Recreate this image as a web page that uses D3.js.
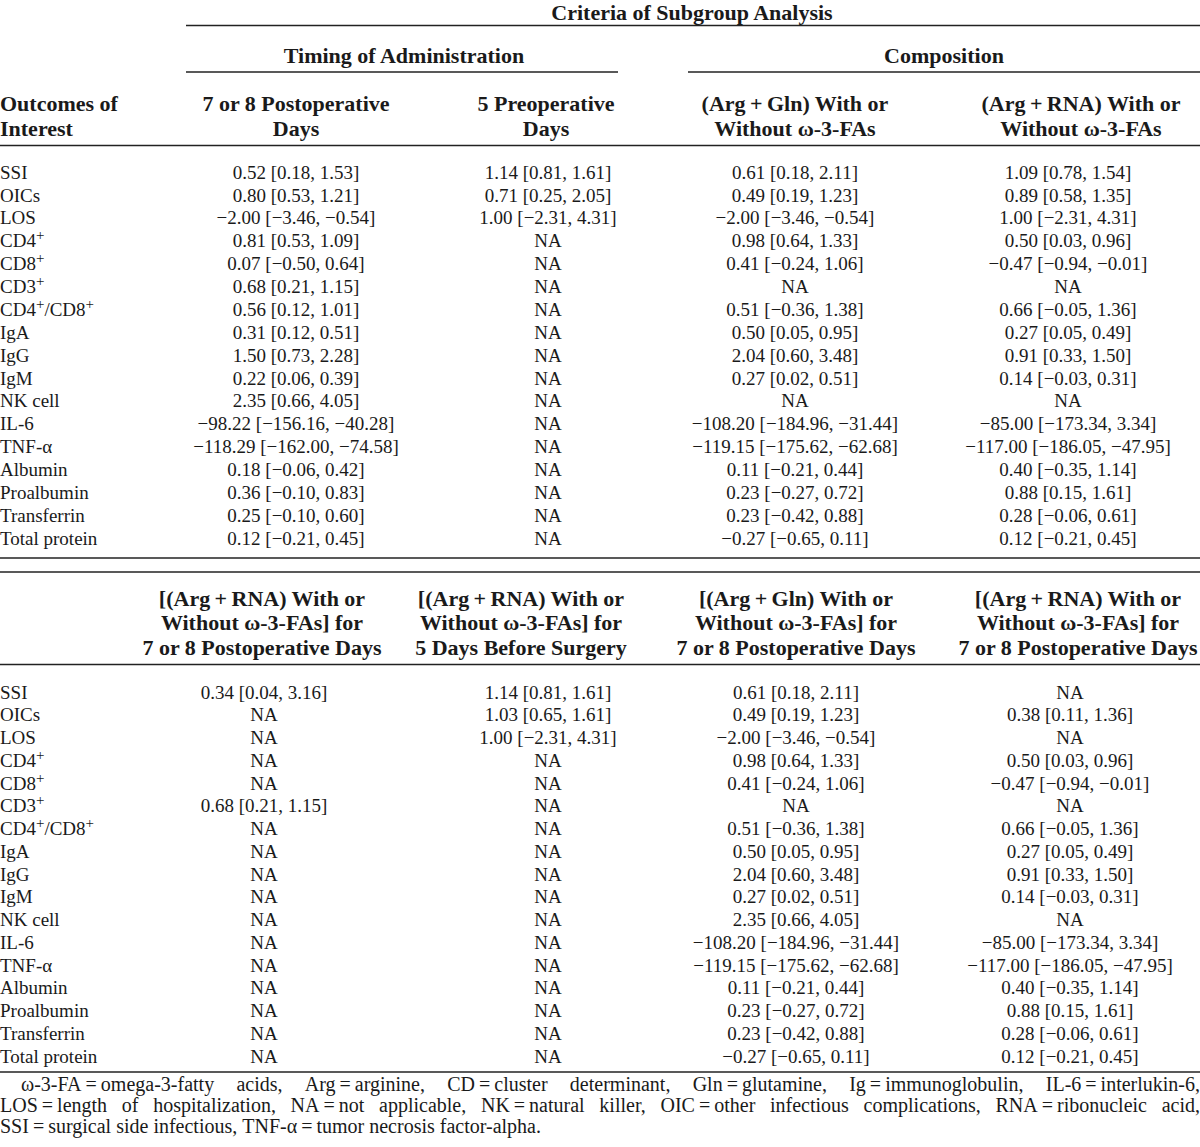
<!DOCTYPE html>
<html>
<head>
<meta charset="utf-8">
<script src="https://cdn.jsdelivr.net/npm/d3@7"></script>
<style>
  html, body { margin: 0; padding: 0; background: #fff; }
  svg { display: block; }
  text { font-family: "Liberation Serif", "Times New Roman", serif; fill: #1a1a1a; }
</style>
</head>
<body>
<svg id="chart" width="1200" height="1147"></svg>
<script>
// ---------------- DATA ----------------
const outcomes = ["SSI", "OICs", "LOS", "CD4+", "CD8+", "CD3+", "CD4+/CD8+", "IgA", "IgG", "IgM",
  "NK cell", "IL-6", "TNF-α", "Albumin", "Proalbumin", "Transferrin", "Total protein"];

const spannerTitle = "Criteria of Subgroup Analysis";
const spannerGroups = ["Timing of Administration", "Composition"];
const stubHeader = ["Outcomes of", "Interest"];

const topHeaders = [
  ["7 or 8 Postoperative", "Days"],
  ["5 Preoperative", "Days"],
  ["(Arg\u2009+\u2009Gln) With or", "Without ω-3-FAs"],
  ["(Arg\u2009+\u2009RNA) With or", "Without ω-3-FAs"]
];
const bottomHeaders = [
  ["[(Arg\u2009+\u2009RNA) With or", "Without ω-3-FAs] for", "7 or 8 Postoperative Days"],
  ["[(Arg\u2009+\u2009RNA) With or", "Without ω-3-FAs] for", "5 Days Before Surgery"],
  ["[(Arg\u2009+\u2009Gln) With or", "Without ω-3-FAs] for", "7 or 8 Postoperative Days"],
  ["[(Arg\u2009+\u2009RNA) With or", "Without ω-3-FAs] for", "7 or 8 Postoperative Days"]
];

// estimate, lower, upper ; null = NA
const timingPostop = [[0.52,0.18,1.53],[0.80,0.53,1.21],[-2.00,-3.46,-0.54],[0.81,0.53,1.09],[0.07,-0.50,0.64],
  [0.68,0.21,1.15],[0.56,0.12,1.01],[0.31,0.12,0.51],[1.50,0.73,2.28],[0.22,0.06,0.39],[2.35,0.66,4.05],
  [-98.22,-156.16,-40.28],[-118.29,-162.00,-74.58],[0.18,-0.06,0.42],[0.36,-0.10,0.83],[0.25,-0.10,0.60],[0.12,-0.21,0.45]];
const timingPreop = [[1.14,0.81,1.61],[0.71,0.25,2.05],[1.00,-2.31,4.31],null,null,null,null,null,null,null,
  null,null,null,null,null,null,null];
const compArgGln = [[0.61,0.18,2.11],[0.49,0.19,1.23],[-2.00,-3.46,-0.54],[0.98,0.64,1.33],[0.41,-0.24,1.06],
  null,[0.51,-0.36,1.38],[0.50,0.05,0.95],[2.04,0.60,3.48],[0.27,0.02,0.51],null,
  [-108.20,-184.96,-31.44],[-119.15,-175.62,-62.68],[0.11,-0.21,0.44],[0.23,-0.27,0.72],[0.23,-0.42,0.88],[-0.27,-0.65,0.11]];
const compArgRna = [[1.09,0.78,1.54],[0.89,0.58,1.35],[1.00,-2.31,4.31],[0.50,0.03,0.96],[-0.47,-0.94,-0.01],
  null,[0.66,-0.05,1.36],[0.27,0.05,0.49],[0.91,0.33,1.50],[0.14,-0.03,0.31],null,
  [-85.00,-173.34,3.34],[-117.00,-186.05,-47.95],[0.40,-0.35,1.14],[0.88,0.15,1.61],[0.28,-0.06,0.61],[0.12,-0.21,0.45]];

const argRnaPostop = [[0.34,0.04,3.16],null,null,null,null,[0.68,0.21,1.15],null,null,null,null,
  null,null,null,null,null,null,null];
const argRnaPreop = [[1.14,0.81,1.61],[1.03,0.65,1.61],[1.00,-2.31,4.31],null,null,null,null,null,null,null,
  null,null,null,null,null,null,null];
const argGlnPostop = [[0.61,0.18,2.11],[0.49,0.19,1.23],[-2.00,-3.46,-0.54],[0.98,0.64,1.33],[0.41,-0.24,1.06],
  null,[0.51,-0.36,1.38],[0.50,0.05,0.95],[2.04,0.60,3.48],[0.27,0.02,0.51],[2.35,0.66,4.05],
  [-108.20,-184.96,-31.44],[-119.15,-175.62,-62.68],[0.11,-0.21,0.44],[0.23,-0.27,0.72],[0.23,-0.42,0.88],[-0.27,-0.65,0.11]];
const argRnaPostop2 = [null,[0.38,0.11,1.36],null,[0.50,0.03,0.96],[-0.47,-0.94,-0.01],
  null,[0.66,-0.05,1.36],[0.27,0.05,0.49],[0.91,0.33,1.50],[0.14,-0.03,0.31],null,
  [-85.00,-173.34,3.34],[-117.00,-186.05,-47.95],[0.40,-0.35,1.14],[0.88,0.15,1.61],[0.28,-0.06,0.61],[0.12,-0.21,0.45]];

const footnoteLines = [
  "ω-3-FA\u2009=\u2009omega-3-fatty acids, Arg\u2009=\u2009arginine, CD\u2009=\u2009cluster determinant, Gln\u2009=\u2009glutamine, Ig\u2009=\u2009immunoglobulin, IL-6\u2009=\u2009interlukin-6,",
  "LOS\u2009=\u2009length of hospitalization, NA\u2009=\u2009not applicable, NK\u2009=\u2009natural killer, OIC\u2009=\u2009other infectious complications, RNA\u2009=\u2009ribonucleic acid,",
  "SSI\u2009=\u2009surgical side infectious, TNF-α\u2009=\u2009tumor necrosis factor-alpha."
];

// ---------------- LAYOUT ----------------
const W = 1200;
const svg = d3.select("#chart");
const fmt = d3.format(".2f");
const cell = d => d ? `${fmt(d[0])} [${fmt(d[1])}, ${fmt(d[2])}]` : "NA";

const FS = 19, FSB = 22;
const ink = "#222";

function hline(x1, x2, y, w) {
  svg.append("line").attr("x1", x1).attr("x2", x2).attr("y1", y).attr("y2", y)
    .attr("stroke", ink).attr("stroke-width", w || 1.6);
}
function boldText(x, y, s, anchor) {
  return svg.append("text").attr("x", x).attr("y", y).attr("dy", "0.35em")
    .attr("text-anchor", anchor || "middle").attr("font-weight", "bold")
    .attr("font-size", FSB).text(s);
}
function label(g, s) {
  // render "+" as superscript
  const parts = s.split(/(\+)/).filter(p => p.length);
  let pending = 0;
  parts.forEach(p => {
    if (p === "+") {
      g.append("tspan").attr("font-size", 15).attr("dy", -7 - pending).text("+");
      pending = -7;
    } else {
      const t = g.append("tspan").text(p);
      if (pending) t.attr("dy", -pending);
      pending = 0;
    }
  });
}

// column scales
const topKeys = ["postop", "preop", "argGln", "argRna"];
const topX = d3.scaleOrdinal().domain(topKeys).range([296, 548, 795, 1068]);
const topHX = d3.scaleOrdinal().domain(topKeys).range([296, 546, 795, 1081]);
const botKeys = ["b1", "b2", "b3", "b4"];
const botX = d3.scaleOrdinal().domain(botKeys).range([264, 548, 796, 1070]);
const botHX = d3.scaleOrdinal().domain(botKeys).range([262, 521, 796, 1078]);

const yTop = d3.scaleLinear().domain([0, outcomes.length - 1]).range([172, 538]);
const yBot = d3.scaleLinear().domain([0, outcomes.length - 1]).range([692, 1056]);

// ---- top header ----
boldText(692, 12, spannerTitle);
hline(186, W, 25.5);
boldText(404, 55, spannerGroups[0]);
boldText(944, 55, spannerGroups[1]);
hline(186, 618, 72);
hline(688, W, 72);
stubHeader.forEach((s, i) => boldText(0, 103 + i * 25, s, "start"));
topHeaders.forEach((h, c) => h.forEach((s, i) => boldText(topHX(topKeys[c]), 103 + i * 25, s)));
hline(0, W, 145.5);

// ---- top body ----
const topCols = [timingPostop, timingPreop, compArgGln, compArgRna];
outcomes.forEach((o, r) => {
  const t = svg.append("text").attr("x", 0).attr("y", yTop(r)).attr("dy", "0.35em").attr("font-size", FS);
  label(t, o);
  topCols.forEach((col, c) => {
    svg.append("text").attr("x", topX(topKeys[c])).attr("y", yTop(r)).attr("dy", "0.35em")
      .attr("text-anchor", "middle").attr("font-size", FS).text(cell(col[r]));
  });
});
hline(0, W, 558);
hline(0, W, 572);

// ---- bottom header ----
bottomHeaders.forEach((h, c) => h.forEach((s, i) => boldText(botHX(botKeys[c]), 598 + i * 24.5, s)));
hline(0, W, 664.5);

// ---- bottom body ----
const botCols = [argRnaPostop, argRnaPreop, argGlnPostop, argRnaPostop2];
outcomes.forEach((o, r) => {
  const t = svg.append("text").attr("x", 0).attr("y", yBot(r)).attr("dy", "0.35em").attr("font-size", FS);
  label(t, o);
  botCols.forEach((col, c) => {
    svg.append("text").attr("x", botX(botKeys[c])).attr("y", yBot(r)).attr("dy", "0.35em")
      .attr("text-anchor", "middle").attr("font-size", FS).text(cell(col[r]));
  });
});
hline(0, W, 1072);

// ---- footnote (justified) ----
const FFS = 20;
const footY = [1084, 1105, 1126];
const footX0 = [21, 0, 0];
footnoteLines.forEach((line, i) => {
  const words = line.split(" ");
  const g = svg.append("g");
  const nodes = words.map(w => g.append("text").attr("font-size", FFS).attr("y", footY[i]).attr("dy", "0.35em").text(w));
  const widths = nodes.map(n => n.node().getComputedTextLength());
  const total = d3.sum(widths);
  const justify = i < footnoteLines.length - 1;
  const gap = justify ? (W - footX0[i] - total) / (words.length - 1) : FFS * 0.25;
  let x = footX0[i];
  nodes.forEach((n, k) => { n.attr("x", x); x += widths[k] + gap; });
});
</script>
</body>
</html>
